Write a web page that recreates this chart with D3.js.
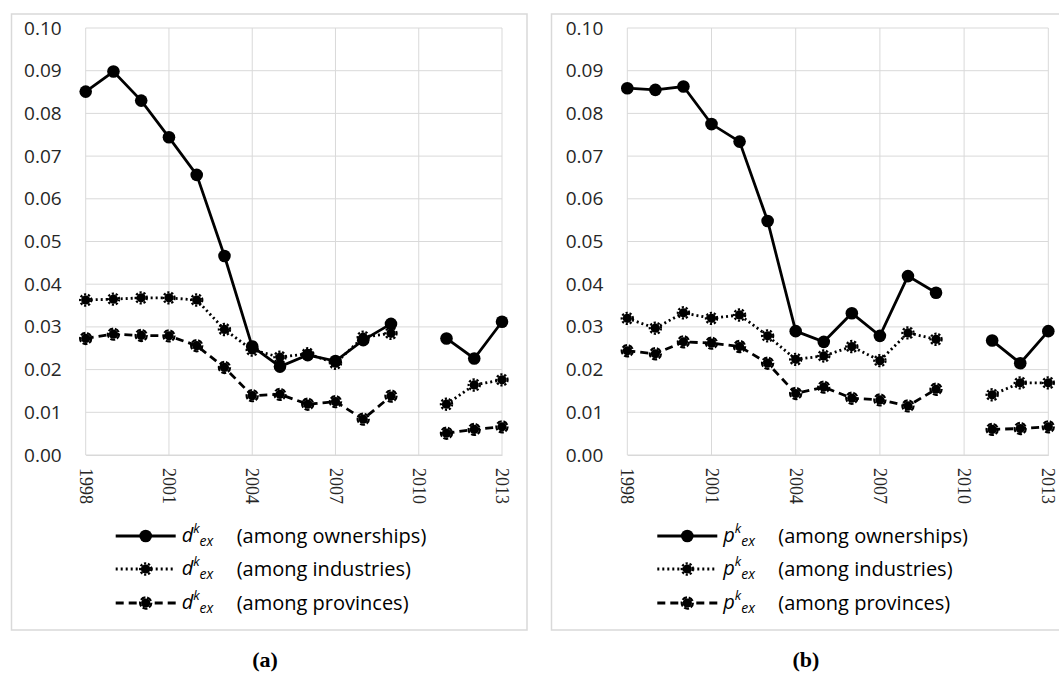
<!DOCTYPE html>
<html>
<head>
<meta charset="utf-8">
<script src="https://cdn.jsdelivr.net/npm/d3@7"></script>
<style>
  body { margin: 0; background: #fff; }
  svg { display: block; }
</style>
</head>
<body>
<script>
// ---- data ----
const years = d3.range(1998, 2014);
const yTicks = [0, 0.01, 0.02, 0.03, 0.04, 0.05, 0.06, 0.07, 0.08, 0.09, 0.10];
const xTickYears = [1998, 2001, 2004, 2007, 2010, 2013];

// panel (a): d_ex
const dOwnerships = [0.0851, 0.0898, 0.0830, 0.0744, 0.0656, 0.0466, 0.0254, 0.0207, 0.0234, 0.0220, 0.0269, 0.0307, null, 0.0273, 0.0226, 0.0312];
const dIndustries = [0.0363, 0.0365, 0.0368, 0.0368, 0.0363, 0.0294, 0.0246, 0.0229, 0.0237, 0.0215, 0.0276, 0.0285, null, 0.0119, 0.0164, 0.0176];
const dProvinces  = [0.0273, 0.0283, 0.0280, 0.0279, 0.0256, 0.0205, 0.0139, 0.0142, 0.0119, 0.0125, 0.0084, 0.0138, null, 0.0051, 0.0060, 0.0066];

// panel (b): p_ex
const pOwnerships = [0.0859, 0.0855, 0.0863, 0.0775, 0.0734, 0.0548, 0.0290, 0.0265, 0.0332, 0.0279, 0.0419, 0.0380, null, 0.0268, 0.0215, 0.0290];
const pIndustries = [0.0320, 0.0297, 0.0333, 0.0320, 0.0328, 0.0279, 0.0224, 0.0232, 0.0254, 0.0221, 0.0286, 0.0271, null, 0.0141, 0.0169, 0.0169];
const pProvinces  = [0.0244, 0.0237, 0.0265, 0.0262, 0.0254, 0.0215, 0.0144, 0.0159, 0.0133, 0.0129, 0.0115, 0.0154, null, 0.0060, 0.0062, 0.0066];

const seriesLabels = ["(among ownerships)", "(among industries)", "(among provinces)"];

// ---- chart ----
const W = 1059, H = 675;
const svg = d3.select("body").append("svg")
  .attr("width", W).attr("height", H);

const grid = "#d9d9d9";
const sans = "'Open Sans', Lato, sans-serif";
const styles = [
  { dash: null,  marker: "solid" },
  { dash: "2,3", marker: "dotted" },
  { dash: "8,5", marker: "dashed" }
];

function drawPanel(p) {
  // frame
  svg.append("rect")
    .attr("x", p.frame[0]).attr("y", 14)
    .attr("width", p.frame[1] - p.frame[0]).attr("height", 616)
    .attr("fill", "none").attr("stroke", grid).attr("stroke-width", 1.5);

  const x = d3.scalePoint().domain(years).range([p.x0, p.x1]);
  const y = d3.scaleLinear().domain([0, 0.10]).range([455, 28]);

  const g = svg.append("g");

  // horizontal gridlines
  g.selectAll(".hg").data(yTicks).enter().append("line")
    .attr("x1", p.x0).attr("x2", p.x1)
    .attr("y1", d => y(d)).attr("y2", d => y(d))
    .attr("stroke", grid).attr("stroke-width", 1);

  // vertical gridlines
  g.selectAll(".vg").data(xTickYears).enter().append("line")
    .attr("x1", d => x(d)).attr("x2", d => x(d))
    .attr("y1", y(0.10)).attr("y2", y(0))
    .attr("stroke", grid).attr("stroke-width", 1);

  // y axis labels
  g.append("g")
    .attr("transform", `translate(${p.x0},0)`)
    .call(d3.axisLeft(y).tickValues(yTicks).tickFormat(d3.format(".2f")).tickSize(0).tickPadding(24))
    .call(a => a.select(".domain").remove())
    .selectAll("text")
    .attr("font-family", sans)
    .attr("font-size", 19).attr("fill", "#262626");

  // x axis labels (rotated)
  g.append("g")
    .attr("transform", `translate(0,${y(0)})`)
    .call(d3.axisBottom(x).tickValues(xTickYears).tickSize(0).tickPadding(0))
    .call(a => a.select(".domain").attr("stroke", grid))
    .selectAll("text")
    .attr("font-family", "'Liberation Serif', 'DejaVu Serif', serif")
    .attr("font-size", 18).attr("fill", "#262626")
    .attr("text-anchor", "start")
    .attr("transform", "rotate(90)")
    .attr("x", 13).attr("y", 0).attr("dy", "0.35em");

  const line = d3.line()
    .defined(d => d != null)
    .x((d, i) => x(years[i]))
    .y(d => y(d));

  p.series.forEach((vals, k) => {
    const st = styles[k];
    g.append("path")
      .attr("d", line(vals))
      .attr("fill", "none").attr("stroke", "#000")
      .attr("stroke-width", 2.8)
      .attr("stroke-dasharray", st.dash);

    const pts = vals.map((v, i) => ({ v, yr: years[i] })).filter(d => d.v != null);
    drawMarkers(g, pts.map(d => [x(d.yr), y(d.v)]), st.marker);
  });

  // legend
  const lx = p.x0 + 30;
  const rows = [536, 569, 603];
  rows.forEach((ry, k) => {
    const st = styles[k];
    g.append("line")
      .attr("x1", lx).attr("x2", lx + 60).attr("y1", ry).attr("y2", ry)
      .attr("stroke", "#000").attr("stroke-width", 2.8)
      .attr("stroke-dasharray", st.dash);
    drawMarkers(g, [[lx + 30, ry]], st.marker);

    const t = g.append("text")
      .attr("x", lx + 66).attr("y", ry + 6)
      .attr("font-family", sans)
      .attr("font-size", 20).attr("font-style", "italic").attr("fill", "#000");
    t.append("tspan").text(p.sym);
    t.append("tspan").attr("font-size", 13).attr("dy", -9).text("k");
    t.append("tspan").attr("font-size", 14).attr("dy", 13).text("ex");

    g.append("text")
      .attr("x", p.x0 + 151).attr("y", ry + 7)
      .attr("font-family", sans)
      .attr("font-size", 20).attr("fill", "#000")
      .text(seriesLabels[k]);
  });

  // caption
  svg.append("text")
    .attr("x", p.cap).attr("y", 667)
    .attr("text-anchor", "middle")
    .attr("font-family", "'Liberation Serif', serif")
    .attr("font-size", 22).attr("font-weight", "bold")
    .text(p.caption);
}

function drawMarkers(g, pts, kind) {
  if (kind === "solid") {
    g.selectAll(null).data(pts).enter().append("circle")
      .attr("cx", d => d[0]).attr("cy", d => d[1]).attr("r", 6.3)
      .attr("fill", "#000");
  } else {
    g.selectAll(null).data(pts).enter().append("circle")
      .attr("cx", d => d[0]).attr("cy", d => d[1]).attr("r", 4.6)
      .attr("fill", "#000");
    g.selectAll(null).data(pts).enter().append("circle")
      .attr("cx", d => d[0]).attr("cy", d => d[1]).attr("r", 5.6)
      .attr("fill", "none").attr("stroke", "#000").attr("stroke-width", 2.2)
      .attr("stroke-dasharray", kind === "dotted" ? "2.2,1.8" : "5,1.8");
  }
}

drawPanel({ frame: [11.5, 527], x0: 85.7, x1: 502, series: [dOwnerships, dIndustries, dProvinces], sym: "d", cap: 265, caption: "(a)" });
drawPanel({ frame: [551.5, 1090], x0: 627.3, x1: 1048.3, series: [pOwnerships, pIndustries, pProvinces], sym: "p", cap: 806, caption: "(b)" });
</script>
</body>
</html>
